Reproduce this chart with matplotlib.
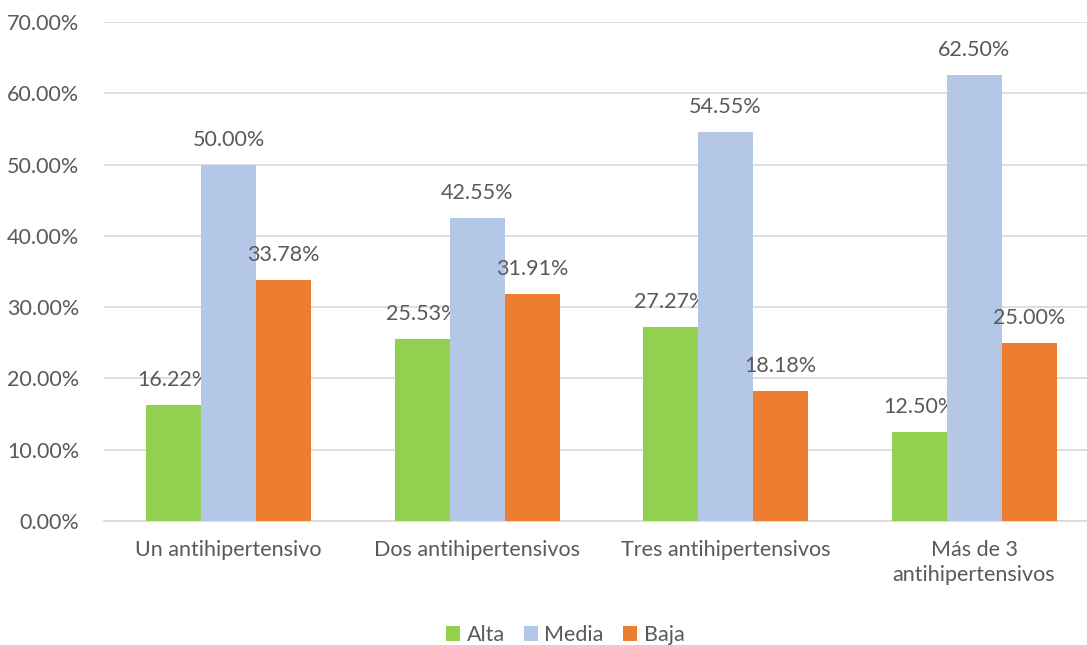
import matplotlib
matplotlib.use("Agg")
import matplotlib.pyplot as plt
import numpy as np
from matplotlib.ticker import FuncFormatter

categories = ["Un antihipertensivo", "Dos antihipertensivos",
              "Tres antihipertensivos", "Más de 3\nantihipertensivos"]
series_names = ["Alta", "Media", "Baja"]
alta = [16.22, 25.53, 27.27, 12.50]
media = [50.00, 42.55, 54.55, 62.50]
baja = [33.78, 31.91, 18.18, 25.00]
colors = ["#92D050", "#B4C7E7", "#ED7D31"]

plt.rcParams["font.family"] = ["Lato", "DejaVu Sans"]
TXT = "#595959"
FS = 15.5

fig = plt.figure(figsize=(10.87, 6.45), dpi=100)
ax = fig.add_axes([104.3 / 1087, 1 - 521 / 645, 994 / 1087, 499 / 645])

x = np.arange(len(categories))
w = 0.2213
for i, (name, vals, c) in enumerate(zip(series_names, [alta, media, baja], colors)):
    bars = ax.bar(x + (i - 1) * w, vals, width=w, color=c, label=name, zorder=3)
    for b, v in zip(bars, vals):
        ax.annotate(f"{v:.2f}%", (b.get_x() + b.get_width() / 2, v),
                    xytext=(0, 18), textcoords="offset points",
                    ha="center", va="center", fontsize=FS, color=TXT)

ax.set_ylim(0, 70)
ax.set_xlim(-0.5, len(categories) - 0.5)
ax.set_yticks(np.arange(0, 71, 10))
ax.yaxis.set_major_formatter(FuncFormatter(lambda v, p: f"{v:.2f}%"))
ax.set_xticks(x)
ax.set_xticklabels(categories, linespacing=1.3)
ax.tick_params(axis="both", length=0, labelsize=FS, labelcolor=TXT)
ax.tick_params(axis="x", pad=14)
ax.tick_params(axis="y", pad=18)
ax.grid(axis="y", color="#D9D9D9", linewidth=1.2, zorder=0)
for s in ["top", "right", "left"]:
    ax.spines[s].set_visible(False)
ax.spines["bottom"].set_color("#D9D9D9")
ax.spines["bottom"].set_linewidth(1.2)

fig.legend(loc="lower center", ncol=3, frameon=False, fontsize=FS,
           bbox_to_anchor=(0.52, -0.03), handlelength=0.65, handleheight=0.65,
           handletextpad=0.3, columnspacing=0.9, labelcolor=TXT)

fig.savefig("out.png", dpi=100)
